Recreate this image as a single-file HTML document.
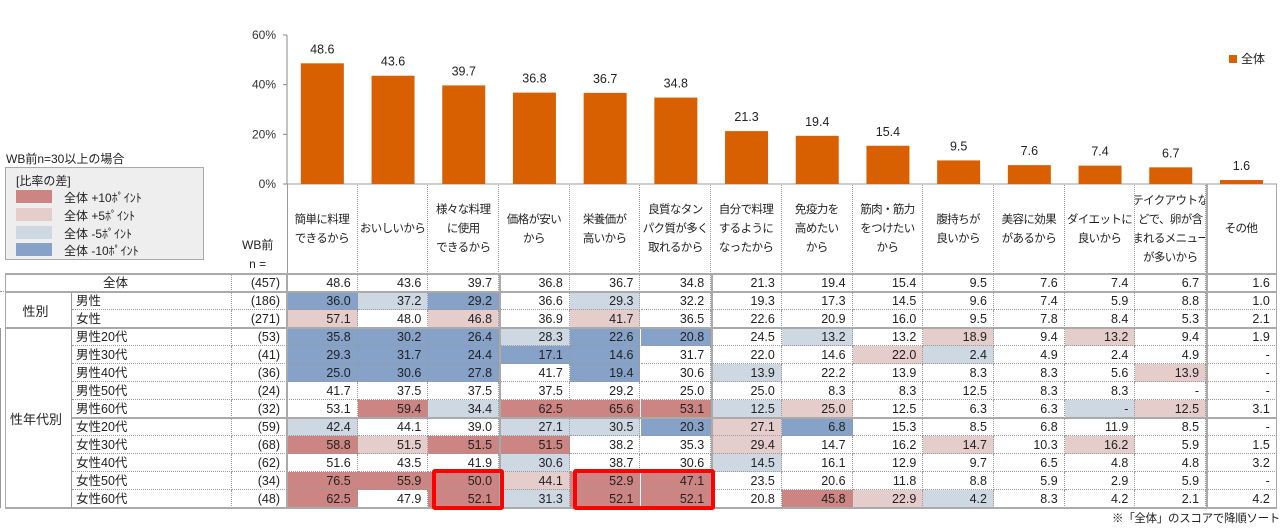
<!DOCTYPE html>
<html><head><meta charset="utf-8">
<style>
body{margin:0;width:1288px;height:532px;background:#fff;font-family:"Liberation Sans","Noto Sans CJK JP",sans-serif;position:relative;overflow:hidden;color:#222}
.a{position:absolute;box-sizing:border-box;font-size:13px}
.c{position:absolute;box-sizing:border-box;font-size:12.5px;text-align:right;padding-right:6px;line-height:18px;height:18px;border-right:1px dotted #999;border-bottom:1px dotted #999;white-space:nowrap}
.h{position:absolute;box-sizing:border-box;font-size:11.5px;letter-spacing:-0.6px;text-align:center;line-height:19px;display:flex;align-items:center;justify-content:center;border-right:1px dotted #999;white-space:nowrap;overflow:hidden}
</style></head><body>
<svg id="chart" width="1288" height="200" style="position:absolute;left:0;top:0"></svg>
<div class="a" style="left:6px;top:150px;font-size:12px;white-space:nowrap">WB前n=30以上の場合</div>
<div class="a" style="left:5px;top:167px;width:199px;height:93px;background:#eee;border:1px solid #aaa;font-size:12px;white-space:nowrap">
 <div style="position:absolute;left:10px;top:4px">[比率の差]</div>
 <div style="position:absolute;left:10px;top:22px;width:36px;height:13px;background:#cc8582"></div><div style="position:absolute;left:58px;top:21px">全体 +10ﾎﾟｲﾝﾄ</div>
 <div style="position:absolute;left:10px;top:40px;width:36px;height:13px;background:#e5cdcb"></div><div style="position:absolute;left:58px;top:39px">全体 +5ﾎﾟｲﾝﾄ</div>
 <div style="position:absolute;left:10px;top:58px;width:36px;height:13px;background:#cdd8e3"></div><div style="position:absolute;left:58px;top:57px">全体 -5ﾎﾟｲﾝﾄ</div>
 <div style="position:absolute;left:10px;top:75px;width:36px;height:13px;background:#86a2c8"></div><div style="position:absolute;left:58px;top:74px">全体 -10ﾎﾟｲﾝﾄ</div>
</div>
<div class="a" style="left:242px;top:236px;text-align:center;line-height:19px;font-size:12px">WB前<br>n =</div>
<div id="tbl"></div>
<div class="a" style="left:1112px;top:510px;font-size:11.5px;letter-spacing:-0.3px;white-space:nowrap">※「全体」のスコアで降順ソート</div>
<script>
const categories=["簡単に料理<br>できるから","おいしいから","様々な料理<br>に使用<br>できるから","価格が安い<br>から","栄養価が<br>高いから","良質なタン<br>パク質が多く<br>取れるから","自分で料理<br>するように<br>なったから","免疫力を<br>高めたい<br>から","筋肉・筋力<br>をつけたい<br>から","腹持ちが<br>良いから","美容に効果<br>があるから","ダイエットに<br>良いから","テイクアウトな<br>どで、卵が含<br>まれるメニュー<br>が多いから","その他"];
const totalValues=[48.6,43.6,39.7,36.8,36.7,34.8,21.3,19.4,15.4,9.5,7.6,7.4,6.7,1.6];
const yTicks=[0,20,40,60];
const rowLabels=["男性","女性","男性20代","男性30代","男性40代","男性50代","男性60代","女性20代","女性30代","女性40代","女性50代","女性60代"];
const rowN=["(186)","(271)","(53)","(41)","(36)","(24)","(32)","(59)","(68)","(62)","(34)","(48)"];
const rowValues=[
["36.0","37.2","29.2","36.6","29.3","32.2","19.3","17.3","14.5","9.6","7.4","5.9","8.8","1.0"],
["57.1","48.0","46.8","36.9","41.7","36.5","22.6","20.9","16.0","9.5","7.8","8.4","5.3","2.1"],
["35.8","30.2","26.4","28.3","22.6","20.8","24.5","13.2","13.2","18.9","9.4","13.2","9.4","1.9"],
["29.3","31.7","24.4","17.1","14.6","31.7","22.0","14.6","22.0","2.4","4.9","2.4","4.9","-"],
["25.0","30.6","27.8","41.7","19.4","30.6","13.9","22.2","13.9","8.3","8.3","5.6","13.9","-"],
["41.7","37.5","37.5","37.5","29.2","25.0","25.0","8.3","8.3","12.5","8.3","8.3","-","-"],
["53.1","59.4","34.4","62.5","65.6","53.1","12.5","25.0","12.5","6.3","6.3","-","12.5","3.1"],
["42.4","44.1","39.0","27.1","30.5","20.3","27.1","6.8","15.3","8.5","6.8","11.9","8.5","-"],
["58.8","51.5","51.5","51.5","38.2","35.3","29.4","14.7","16.2","14.7","10.3","16.2","5.9","1.5"],
["51.6","43.5","41.9","30.6","38.7","30.6","14.5","16.1","12.9","9.7","6.5","4.8","4.8","3.2"],
["76.5","55.9","50.0","44.1","52.9","47.1","23.5","20.6","11.8","8.8","5.9","2.9","5.9","-"],
["62.5","47.9","52.1","31.3","52.1","52.1","20.8","45.8","22.9","4.2","8.3","4.2","2.1","4.2"]];
const rowShades=[
"BbB.b.........","r.r.r.........","BBBbBB.b.r.r..","BBBBB...rb....","BBB.B.b.....r.",
"..............",".RbRRRbr...br.","b..bbBrB......","RrRR..r..r.r..","...b..b.......","RRRrRR........","R.RbRR.Rrb...."];
const shadeColor={R:"#cc8582",r:"#e5cdcb",b:"#cdd8e3",B:"#86a2c8"};
const X0=287,CW=70.7,Y0=184,PX=149/60;
const xPos=i=>X0+i*CW, yPos=v=>Y0-v*PX;
const svg=document.getElementById('chart');
const NS="http://www.w3.org/2000/svg";
function mk(t,a){const e=document.createElementNS(NS,t);for(const k in a)e.setAttribute(k,a[k]);svg.appendChild(e);return e;}
let ax=mk('line',{x1:X0,x2:X0,y1:yPos(60),y2:Y0,stroke:'#888'});


yTicks.forEach(t=>{
 const tx=mk('text',{x:X0-11,y:yPos(t)+4,'text-anchor':'end','font-size':12,fill:'#333'});tx.textContent=t+'%';
 
 
 mk('line',{x1:X0-4,x2:X0,y1:yPos(t),y2:yPos(t),stroke:'#888'});
});
mk('line',{x1:X0,x2:1277,y1:Y0,y2:Y0,stroke:'#999'});
totalValues.forEach((v,i)=>{
 const r=mk('rect',{x:xPos(i)+CW/2-21.5,y:yPos(v),width:43,height:Y0-yPos(v),fill:'#d96000'});
 
 
 const t=mk('text',{x:xPos(i)+CW/2,y:yPos(v)-10,'text-anchor':'middle','font-size':12.5,fill:'#222'});t.textContent=v.toFixed(1);
 
 
});
let lg=mk('rect',{x:1229,y:55,width:8,height:8,fill:'#d96000'});


let lt=mk('text',{x:1241,y:63,'font-size':12,fill:'#222'});lt.textContent='全体';



const tb=document.getElementById('tbl');
function div(cls,style,html){const d=document.createElement('div');d.className=cls;d.style.cssText=style;d.innerHTML=html;tb.appendChild(d);return d;}
categories.forEach((c,i)=>{
 const d=div('h',`left:${xPos(i)}px;top:185px;width:${CW}px;height:89px;`,'<span>'+c+'</span>');
 
 
});
div('a','left:287px;top:184px;width:1px;height:90px;background:#999','');
const RT=274,RH=18;
let tr=div('c',`left:0;top:${RT}px;width:232px;text-align:center;padding:0;`,'全体');


div('c',`left:232px;top:${RT}px;width:55px;`,'(457)');
totalValues.forEach((v,i)=>{
 const d=div('c',`left:${xPos(i)}px;top:${RT}px;width:${CW}px;`,v.toFixed(1));
 
 
});
rowLabels.forEach((lab,r)=>{
 const y=RT+RH*(r+1);
 const l=div('c',`left:72px;top:${y}px;width:160px;text-align:left;padding-left:4px;`,lab);
 
 
 div('c',`left:232px;top:${y}px;width:55px;`,rowN[r]);
 rowValues[r].forEach((v,i)=>{
  const s=rowShades[r][i];
  const d=div('c',`left:${xPos(i)}px;top:${y}px;width:${CW}px;${s!=='.'?'background:'+shadeColor[s]+';':''}`,v);
  
  
 });
});
let g1=div('a','left:0;top:292px;width:72px;height:36px;display:flex;align-items:center;justify-content:center;border-right:1px solid #999','性別');


let g2=div('a','left:0;top:328px;width:72px;height:180px;display:flex;align-items:center;justify-content:center;border-right:1px solid #999;border-left:1px solid #999','性年代別');


[274,292,328,418,508].forEach(y=>div('a',`left:${y==418?72:5}px;top:${y-1}px;width:${1277-(y==418?72:5)}px;height:2px;background:#aaa`,''));
[[287,274],[500,274],[712,274],[1207,184]].forEach(([x,t])=>div('a',`left:${x-1}px;top:${t}px;width:2px;height:${508-t}px;background:#aaa`,''));
div('a','left:1276px;top:184px;width:1px;height:324px;background:#aaa','');
div('a','left:5px;top:274px;width:1px;height:234px;background:#aaa','');
let b1=div('a','left:432px;top:469px;width:72px;height:41px;border:4px solid #f00;border-radius:3px','');


let b2=div('a','left:573px;top:469px;width:142px;height:41px;border:4px solid #f00;border-radius:3px','');


</script>
</body></html>
